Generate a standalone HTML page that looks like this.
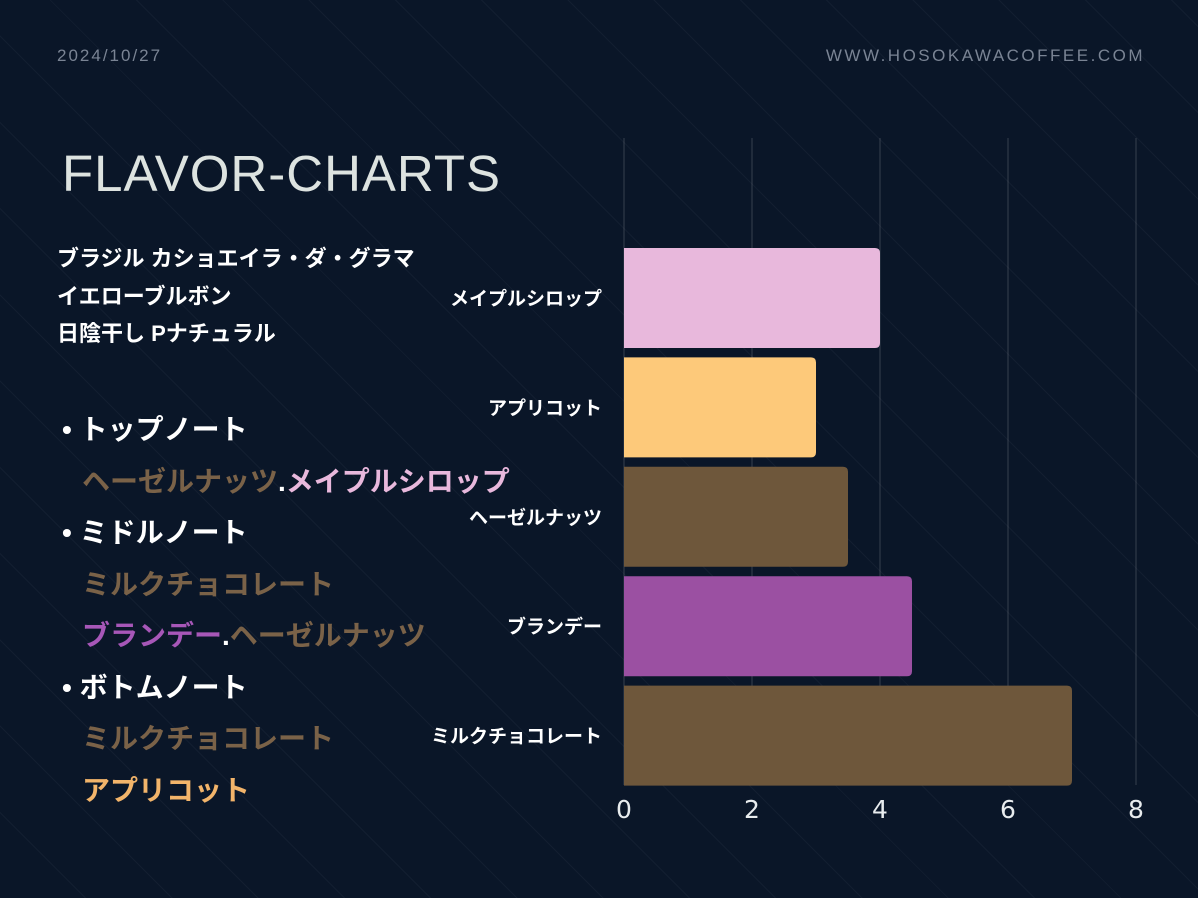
<!DOCTYPE html>
<html><head><meta charset="utf-8"><style>
body{margin:0;width:1198px;height:898px;overflow:hidden;background:#0a1628;font-family:"Liberation Sans","Noto Sans CJK JP",sans-serif;position:relative}
.bg{position:absolute;inset:0;background:repeating-linear-gradient(45deg,rgba(255,255,255,0) 0 60px,rgba(255,255,255,0.035) 60px 61px)}
.t{position:absolute;white-space:nowrap}
</style></head><body>
<div class="bg"></div>
<div class="t" style="left:57px;top:46px;font-size:17px;color:#7a8494;letter-spacing:2px">2024/10/27</div>
<div class="t" style="right:53px;top:46px;font-size:17px;color:#7a8494;letter-spacing:2.5px">WWW.HOSOKAWACOFFEE.COM</div>
<div class="t" style="left:62px;top:144px;font-size:51px;color:#dde3e0;letter-spacing:1px">FLAVOR-CHARTS</div>
<div class="t" style="left:57px;top:240px;font-size:22px;line-height:37.5px;color:#fff;font-weight:bold">ブラジル カショエイラ・ダ・グラマ<br>イエローブルボン<br>日陰干し Pナチュラル</div>
<div style="position:absolute;left:62px;top:404px;font-size:28px;line-height:51.5px;font-weight:bold;color:#fff">
<div>• トップノート</div>
<div style="padding-left:20px"><span style="color:#7a6248">ヘーゼルナッツ</span>.<span style="color:#e8b8dc">メイプルシロップ</span></div>
<div>• ミドルノート</div>
<div style="padding-left:20px;color:#7a6248">ミルクチョコレート</div>
<div style="padding-left:20px"><span style="color:#a757b8">ブランデー</span>.<span style="color:#7a6248">ヘーゼルナッツ</span></div>
<div>• ボトムノート</div>
<div style="padding-left:20px;color:#7a6248">ミルクチョコレート</div>
<div style="padding-left:20px;color:#f2b46a">アプリコット</div>
</div>
<svg id="chart" width="1198" height="898" style="position:absolute;left:0;top:0"></svg>
<script>
const categories=["メイプルシロップ","アプリコット","ヘーゼルナッツ","ブランデー","ミルクチョコレート"];
const values=[4,3,3.5,4.5,7];
const colors=["#e8b8dc","#fdc97a","#6e573b","#9b50a2","#6e573b"];
const ticks=[0,2,4,6,8];
const svg=document.getElementById('chart');
const NS="http://www.w3.org/2000/svg";
const x0=624,x1=1136,xmax=8,yTop=138,yBot=785,bandTop=248,pitch=109.4,barH=100;
const xs=v=>x0+(x1-x0)*v/xmax;
function mk(t,a){const e=document.createElementNS(NS,t);for(const k in a)e.setAttribute(k,a[k]);svg.appendChild(e);return e;}
ticks.forEach(t=>{
 const l=mk('line',{x1:xs(t),x2:xs(t),y1:yTop,y2:yBot,stroke:'rgba(255,255,255,0.18)','stroke-width':1});
 
 
 const tx=mk('text',{x:xs(t),y:818,'text-anchor':'middle','font-size':25,fill:'#e8ecee','font-family':'DejaVu Sans, sans-serif'});
 tx.textContent=t;
 
 
});
categories.forEach((c,i)=>{
 const y=bandTop+i*pitch,w=xs(values[i])-x0,r=5;
 const p=mk('path',{d:`M${x0},${y}H${x0+w-r}Q${x0+w},${y} ${x0+w},${y+r}V${y+barH-r}Q${x0+w},${y+barH} ${x0+w-r},${y+barH}H${x0}Z`,fill:colors[i]});
 
 
 const tx=mk('text',{x:602,y:y+barH/2+7,'text-anchor':'end','font-size':19,'font-weight':'bold',fill:'#fff','font-family':'Liberation Sans, Noto Sans CJK JP, sans-serif'});
 tx.textContent=c;
 
 
});
</script>
</body></html>
